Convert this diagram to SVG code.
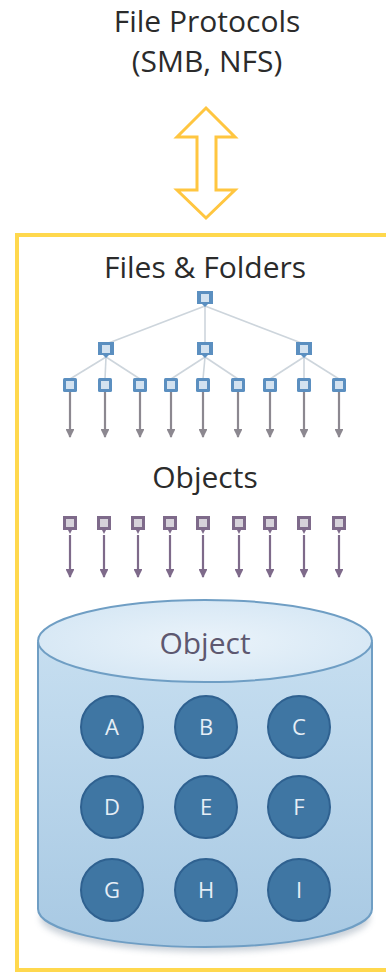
<svg xmlns="http://www.w3.org/2000/svg" width="386" height="973" viewBox="0 0 386 973">
<defs>
<style>
.t{font-family:"Open Sans","Liberation Sans",sans-serif;fill:#2b2b2b;text-anchor:middle}
.edge{stroke:#cdd5dc;stroke-width:1.6;fill:none}
.garr{stroke:#8c8890;stroke-width:2.2;fill:none;marker-end:url(#ga)}
.parr{stroke:#7e6a8a;stroke-width:2.2;fill:none;marker-end:url(#pa)}
.bn{fill:#5b8fc0}
.bi{fill:#d3e2f0}
.pn{fill:#7e6a8a}
.pi{fill:#d6d2da}
.ci{fill:#3f76a3;stroke:#2f6190;stroke-width:2}
.cl{font-family:"Open Sans","Liberation Sans",sans-serif;font-size:22px;fill:#e6eef6;text-anchor:middle}
</style>
<marker id="ga" viewBox="0 0 10 10" refX="9" refY="5" markerWidth="4" markerHeight="4" orient="auto"><path d="M0,0 L10,5 L0,10 Z" fill="#8c8890"/></marker>
<marker id="pa" viewBox="0 0 10 10" refX="9" refY="5" markerWidth="4" markerHeight="4" orient="auto"><path d="M0,0 L10,5 L0,10 Z" fill="#7e6a8a"/></marker>
<linearGradient id="body" x1="0" y1="0" x2="0" y2="1">
<stop offset="0" stop-color="#c6def0"/>
<stop offset="1" stop-color="#a8c9e3"/>
</linearGradient>
<radialGradient id="top" cx="0.5" cy="0.5" r="0.6">
<stop offset="0" stop-color="#eaf3fa"/>
<stop offset="1" stop-color="#d4e6f4"/>
</radialGradient>
<filter id="sh" x="-10%" y="-10%" width="120%" height="130%"><feGaussianBlur stdDeviation="3"/></filter>
</defs>
<rect width="386" height="973" fill="#ffffff"/>

<g id="title">
<text class="t" x="207" y="32" font-size="30">File Protocols</text>
<text class="t" x="207" y="72" font-size="30">(SMB, NFS)</text>
</g>

<g id="protocol-arrow">
<path d="M206,108 L235,137 L216,137 L216,190 L235,190 L206,218 L177,190 L197,190 L197,137 L177,137 Z" fill="#ffffff" stroke="#ffc640" stroke-width="3" stroke-linejoin="miter"/>
</g>

<g id="container">
<rect x="17" y="235" width="380" height="735" fill="none" stroke="#ffd84d" stroke-width="4"/>
</g>

<g id="files-folders-label">
<text class="t" x="205" y="278" font-size="30">Files &amp; Folders</text>
</g>

<g id="connectors">
<line class="edge" x1="205" y1="306" x2="106" y2="344"/>
<line class="edge" x1="205" y1="306" x2="205" y2="344"/>
<line class="edge" x1="205" y1="306" x2="304" y2="344"/>
<line class="edge" x1="106" y1="357" x2="70" y2="379"/>
<line class="edge" x1="106" y1="357" x2="105" y2="379"/>
<line class="edge" x1="106" y1="357" x2="140" y2="379"/>
<line class="edge" x1="205" y1="357" x2="171" y2="379"/>
<line class="edge" x1="205" y1="357" x2="203" y2="379"/>
<line class="edge" x1="205" y1="357" x2="238" y2="379"/>
<line class="edge" x1="304" y1="357" x2="270" y2="379"/>
<line class="edge" x1="304" y1="357" x2="304" y2="379"/>
<line class="edge" x1="304" y1="357" x2="339" y2="379"/>
<line class="garr" x1="70" y1="392" x2="70" y2="437"/>
<line class="garr" x1="105" y1="392" x2="105" y2="437"/>
<line class="garr" x1="140" y1="392" x2="140" y2="437"/>
<line class="garr" x1="171" y1="392" x2="171" y2="437"/>
<line class="garr" x1="203" y1="392" x2="203" y2="437"/>
<line class="garr" x1="238" y1="392" x2="238" y2="437"/>
<line class="garr" x1="270" y1="392" x2="270" y2="437"/>
<line class="garr" x1="304" y1="392" x2="304" y2="437"/>
<line class="garr" x1="339" y1="392" x2="339" y2="437"/>
<line class="parr" x1="70" y1="535" x2="70" y2="577"/>
<line class="parr" x1="104" y1="535" x2="104" y2="577"/>
<line class="parr" x1="138" y1="535" x2="138" y2="577"/>
<line class="parr" x1="170" y1="535" x2="170" y2="577"/>
<line class="parr" x1="203" y1="535" x2="203" y2="577"/>
<line class="parr" x1="239" y1="535" x2="239" y2="577"/>
<line class="parr" x1="270" y1="535" x2="270" y2="577"/>
<line class="parr" x1="304" y1="535" x2="304" y2="577"/>
<line class="parr" x1="339" y1="535" x2="339" y2="577"/>
</g>

<g id="root-folder">
<path class="bn" d="M197,291 h16 v13 h-5 l-3,3 l-3,-3 h-5 Z"/>
<rect class="bi" x="201" y="294" width="8" height="8"/>
</g>
<g id="folder-1">
<path class="bn" d="M98,342 h16 v13 h-5 l-3,3 l-3,-3 h-5 Z"/>
<rect class="bi" x="102" y="345" width="8" height="8"/>
</g>
<g id="folder-2">
<path class="bn" d="M197,342 h16 v13 h-5 l-3,3 l-3,-3 h-5 Z"/>
<rect class="bi" x="201" y="345" width="8" height="8"/>
</g>
<g id="folder-3">
<path class="bn" d="M296,342 h16 v13 h-5 l-3,3 l-3,-3 h-5 Z"/>
<rect class="bi" x="300" y="345" width="8" height="8"/>
</g>

<g id="files">
<g id="file-1"><rect class="bn" x="63" y="378" width="14" height="14" rx="1.5"/><rect class="bi" x="66" y="381" width="8" height="8"/></g>
<g id="file-2"><rect class="bn" x="98" y="378" width="14" height="14" rx="1.5"/><rect class="bi" x="101" y="381" width="8" height="8"/></g>
<g id="file-3"><rect class="bn" x="133" y="378" width="14" height="14" rx="1.5"/><rect class="bi" x="136" y="381" width="8" height="8"/></g>
<g id="file-4"><rect class="bn" x="164" y="378" width="14" height="14" rx="1.5"/><rect class="bi" x="167" y="381" width="8" height="8"/></g>
<g id="file-5"><rect class="bn" x="196" y="378" width="14" height="14" rx="1.5"/><rect class="bi" x="199" y="381" width="8" height="8"/></g>
<g id="file-6"><rect class="bn" x="231" y="378" width="14" height="14" rx="1.5"/><rect class="bi" x="234" y="381" width="8" height="8"/></g>
<g id="file-7"><rect class="bn" x="263" y="378" width="14" height="14" rx="1.5"/><rect class="bi" x="266" y="381" width="8" height="8"/></g>
<g id="file-8"><rect class="bn" x="297" y="378" width="14" height="14" rx="1.5"/><rect class="bi" x="300" y="381" width="8" height="8"/></g>
<g id="file-9"><rect class="bn" x="332" y="378" width="14" height="14" rx="1.5"/><rect class="bi" x="335" y="381" width="8" height="8"/></g>
</g>

<g id="objects-label">
<text class="t" x="205" y="488" font-size="30">Objects</text>
</g>

<g id="objects">
<g id="obj-1"><path class="pn" d="M63,516 h14 v14 h-5 l-2,4 l-2,-4 h-5 Z"/><rect class="pi" x="66" y="519" width="8" height="8"/></g>
<g id="obj-2"><path class="pn" d="M97,516 h14 v14 h-5 l-2,4 l-2,-4 h-5 Z"/><rect class="pi" x="100" y="519" width="8" height="8"/></g>
<g id="obj-3"><path class="pn" d="M131,516 h14 v14 h-5 l-2,4 l-2,-4 h-5 Z"/><rect class="pi" x="134" y="519" width="8" height="8"/></g>
<g id="obj-4"><path class="pn" d="M163,516 h14 v14 h-5 l-2,4 l-2,-4 h-5 Z"/><rect class="pi" x="166" y="519" width="8" height="8"/></g>
<g id="obj-5"><path class="pn" d="M196,516 h14 v14 h-5 l-2,4 l-2,-4 h-5 Z"/><rect class="pi" x="199" y="519" width="8" height="8"/></g>
<g id="obj-6"><path class="pn" d="M232,516 h14 v14 h-5 l-2,4 l-2,-4 h-5 Z"/><rect class="pi" x="235" y="519" width="8" height="8"/></g>
<g id="obj-7"><path class="pn" d="M263,516 h14 v14 h-5 l-2,4 l-2,-4 h-5 Z"/><rect class="pi" x="266" y="519" width="8" height="8"/></g>
<g id="obj-8"><path class="pn" d="M297,516 h14 v14 h-5 l-2,4 l-2,-4 h-5 Z"/><rect class="pi" x="300" y="519" width="8" height="8"/></g>
<g id="obj-9"><path class="pn" d="M332,516 h14 v14 h-5 l-2,4 l-2,-4 h-5 Z"/><rect class="pi" x="335" y="519" width="8" height="8"/></g>
</g>

<g id="object-store">
<ellipse cx="205" cy="918" rx="165" ry="34" fill="#8a9aaa" opacity="0.45" filter="url(#sh)"/>
<path d="M38,643 L38,909 A167,38 0 0 0 372,909 L372,643 Z" fill="url(#body)" stroke="#6f9ec4" stroke-width="2"/>
<ellipse cx="205" cy="641" rx="167" ry="41" fill="url(#top)" stroke="#6f9ec4" stroke-width="2"/>
<text x="205" y="654" font-family="'Open Sans','Liberation Sans',sans-serif" font-size="30" fill="#5d5870" text-anchor="middle">Object</text>
</g>

<g id="obj-A"><circle class="ci" cx="112" cy="727" r="31"/><text class="cl" x="112" y="735">A</text></g>
<g id="obj-B"><circle class="ci" cx="206" cy="727" r="31"/><text class="cl" x="206" y="735">B</text></g>
<g id="obj-C"><circle class="ci" cx="299" cy="727" r="31"/><text class="cl" x="299" y="735">C</text></g>
<g id="obj-D"><circle class="ci" cx="112" cy="807" r="31"/><text class="cl" x="112" y="815">D</text></g>
<g id="obj-E"><circle class="ci" cx="206" cy="807" r="31"/><text class="cl" x="206" y="815">E</text></g>
<g id="obj-F"><circle class="ci" cx="299" cy="807" r="31"/><text class="cl" x="299" y="815">F</text></g>
<g id="obj-G"><circle class="ci" cx="112" cy="890" r="31"/><text class="cl" x="112" y="898">G</text></g>
<g id="obj-H"><circle class="ci" cx="206" cy="890" r="31"/><text class="cl" x="206" y="898">H</text></g>
<g id="obj-I"><circle class="ci" cx="299" cy="890" r="31"/><text class="cl" x="299" y="898">I</text></g>
</svg>
